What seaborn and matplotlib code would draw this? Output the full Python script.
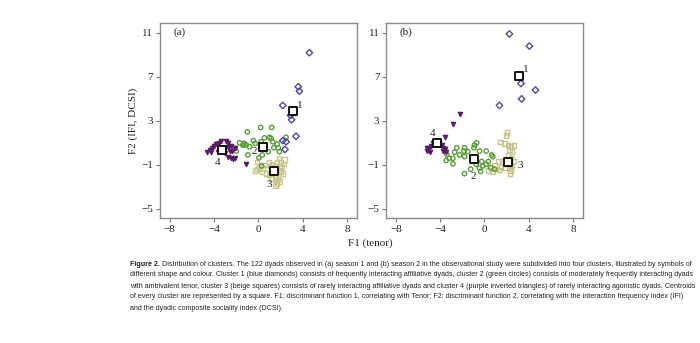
import numpy as np
import pandas as pd
import matplotlib
matplotlib.use("Agg")
import matplotlib.pyplot as plt
import seaborn as sns
from matplotlib import font_manager

# ---------------- data ----------------
clusters = ["1", "2", "3", "4"]

# Season 1 (panel a)
a1_x = [4.6, 3.6, 3.7, 2.2, 2.9, 3.0, 3.4, 2.2, 2.4, 2.5]
a1_y = [9.2, 6.1, 5.7, 4.4, 3.5, 3.1, 1.6, 1.2, 0.4, 1.1]
a2_x = [0.2, 1.2, -1.0, -1.7, -1.3, -1.1, -0.45, -0.3, 0.25, 0.55, 1.0, 1.15, 1.3, 1.7,
        1.4, 1.9, 2.5, -0.95, -2.0, -2.1, 0.05, 0.35, 0.3, 0.9, 1.8, -0.8, -1.3, -1.4]
a2_y = [2.4, 2.4, 2.0, 1.0, 0.85, 0.8, 1.2, 0.95, 1.1, 1.45, 1.5, 1.4, 1.1, 0.9,
        0.55, 0.2, 1.5, -0.1, 0.25, 0.5, -0.35, -0.1, -1.1, 0.2, 0.55, 0.65, 0.95, 0.8]
a3_x = [-0.1, 0.05, -0.1, 0.1, 0.95, 1.25, 1.7, 2.0, 2.35, 2.25, 1.85, 1.9, 1.7, 1.8,
        1.75, 1.7, 1.55, 0.95, 1.15, 0.8, 0.55, 0.35, -0.25, 2.0, 2.2, 1.6, 1.9, 1.65,
        1.8, 0.7, 1.1, 2.1]
a3_y = [-0.75, -1.1, -1.4, -1.4, -0.75, -0.9, -0.75, -0.75, -0.5, -0.9, -0.4, -1.25,
        -1.65, -1.95, -2.3, -2.7, -2.9, -1.9, -2.25, -1.35, -1.0, -1.65, -1.5, -1.65,
        -1.8, -2.1, -2.5, -2.45, -1.5, -1.8, -1.1, -1.2]
a4_x = [-4.6, -4.4, -4.2, -4.0, -3.8, -3.55, -3.35, -2.95, -2.75, -2.7, -2.5, -2.6,
        -2.75, -2.5, -2.3, -2.15, -3.0, -3.65, -4.25, -1.1, -2.35, -2.15]
a4_y = [0.2, 0.35, 0.55, 0.7, 0.85, 1.0, 1.15, 1.2, 0.95, 0.65, 0.75, 0.25,
        -0.25, -0.4, -0.5, -0.35, 0.05, 0.2, 0.2, -0.95, 0.25, 0.5]
a_cx = [3.1, 0.45, 1.4, -3.3]
a_cy = [3.9, 0.6, -1.6, 0.35]
a_lx = [3.75, -0.35, 1.0, -3.7]
a_ly = [4.4, 0.2, -2.8, -0.75]

# Season 2 (panel b)
b1_x = [2.25, 4.05, 3.3, 3.35, 4.6, 1.35]
b1_y = [10.9, 9.8, 6.4, 5.0, 5.8, 4.4]
b2_x = [-2.5, -1.8, -1.85, -2.7, -3.4, -3.45, -2.85, -2.85, -2.25, -1.8, -1.5, -1.8,
        -0.9, -0.7, -0.95, -0.45, 0.15, 0.65, 0.75, -0.25, -0.45, 0.15, 0.55, 0.9,
        -0.75, -0.35, -1.25, 0.35, -0.15, -3.2]
b2_y = [0.55, 0.55, 0.25, 0.15, -0.05, -0.6, -0.4, -0.9, -0.1, -0.25, 0.2, -1.8,
        0.8, 1.0, 0.55, 0.25, 0.25, -0.1, -0.25, -0.7, -1.3, -0.95, -1.25, -1.4,
        -0.95, -1.6, -1.4, -0.7, -1.1, -0.4]
b3_x = [2.05, 1.95, 1.45, 1.8, 2.15, 2.4, 2.65, 2.25, 2.5, 2.15, 2.4, 2.65, 2.25, 2.4,
        2.3, 1.2, 0.9, 0.6, 1.05, 1.5, 1.8, 0.3, 0.75, 1.65, 2.1, 2.5, 2.35, 1.3]
b3_y = [1.95, 1.65, 1.05, 0.95, 0.8, 0.65, 0.75, 0.35, 0.2, -0.1, -0.4, -0.65, -1.0,
        -1.4, -1.8, -0.7, -1.0, -1.25, -1.4, -1.15, -1.3, -1.5, -1.6, -0.7, -0.85,
        -1.1, -1.55, -1.45]
b4_x = [-2.2, -2.85, -3.55, -5.15, -5.0, -4.85, -4.65, -4.45, -4.1, -3.85, -3.7, -3.55,
        -3.5, -5.2, -4.95, -3.7]
b4_y = [3.6, 2.7, 1.55, 0.25, 0.5, 0.75, 0.95, 1.0, 1.0, 0.8, 0.55, 0.4, 0.15, 0.5,
        0.2, 0.25]
b_cx = [3.1, -0.9, 2.1, -4.3]
b_cy = [7.1, -0.5, -0.7, 0.95]
b_lx = [3.75, -1.05, 3.25, -4.7]
b_ly = [7.65, -2.1, -1.1, 1.85]

x_ticks = [-8, -4, 0, 4, 8]
y_ticks = [-5, -1, 3, 7, 11]
x_label = "F1 (tenor)"
y_label = "F2 (IFI, DCSI)"
panel_labels = ["(a)", "(b)"]

caption_bold = "Figure 2."
caption_lines = [
    " Distribution of clusters. The 122 dyads observed in (a) season 1 and (b) season 2 in the observational study were subdivided into four clusters, illustrated by symbols of",
    "different shape and colour. Cluster 1 (blue diamonds) consists of frequently interacting affiliative dyads, cluster 2 (green circles) consists of moderately frequently interacting dyads",
    "with ambivalent tenor, cluster 3 (beige squares) consists of rarely interacting affiliative dyads and cluster 4 (purple inverted triangles) of rarely interacting agonistic dyads. Centroids",
    "of every cluster are represented by a square. F1: discriminant function 1, correlating with Tenor; F2: discriminant function 2, correlating with the interaction frequency index (IFI)",
    "and the dyadic composite sociality index (DCSI).",
]

# ---------------- style ----------------
colors = {"1": "#4b4b9e", "2": "#5a9c3c", "3": "#c8c48c", "4": "#5c1a6a"}
markers = {"1": "D", "2": "o", "3": "s", "4": "v"}
sizes = {"1": 11, "2": 10, "3": 10, "4": 9}
filled = {"1": False, "2": False, "3": False, "4": True}

sns.set_theme(style="white")
serif = ["Liberation Serif", "DejaVu Serif"]
plt.rcParams["font.family"] = serif

names = {f.name for f in font_manager.fontManager.ttflist}
cap_family = "Liberation Sans Narrow" if "Liberation Sans Narrow" in names else "Liberation Sans"

fig = plt.figure(figsize=(7.0, 3.43), dpi=100)
axA = fig.add_axes([0.229, 0.364, 0.281, 0.569])
axB = fig.add_axes([0.552, 0.364, 0.281, 0.569])

def build(xs, ys):
    rows = []
    for c, (x, y) in zip(clusters, zip(xs, ys)):
        for xi, yi in zip(x, y):
            rows.append((xi, yi, c))
    return pd.DataFrame(rows, columns=["F1", "F2", "cluster"])

dfA = build([a1_x, a2_x, a3_x, a4_x], [a1_y, a2_y, a3_y, a4_y])
dfB = build([b1_x, b2_x, b3_x, b4_x], [b1_y, b2_y, b3_y, b4_y])

def draw(ax, df, cx, cy, lx, ly, plabel):
    for c in ["3", "2", "4", "1"]:
        sub = df[df.cluster == c]
        col = colors[c]
        sns.scatterplot(data=sub, x="F1", y="F2", ax=ax, marker=markers[c], s=sizes[c],
                        color=col, edgecolor=col,
                        facecolor=(col if filled[c] else "none"),
                        linewidth=1.0, legend=False, zorder=3)
    cent = pd.DataFrame({"F1": cx, "F2": cy})
    sns.scatterplot(data=cent, x="F1", y="F2", ax=ax, marker="s", s=38,
                    color="white", edgecolor="black", linewidth=1.3, zorder=5, legend=False)
    for c, x, y in zip(clusters, lx, ly):
        ax.text(x, y, c, fontsize=8, ha="center", va="center", color="#222222", zorder=6)
    ax.set_xlim(-8.85, 8.9)
    ax.set_ylim(-5.85, 11.9)
    ax.set_xticks(x_ticks)
    ax.set_yticks(y_ticks)
    ax.set_xticklabels([f"{t}".replace("-", "\u2212") for t in x_ticks])
    ax.set_yticklabels([f"{t}".replace("-", "\u2212") for t in y_ticks])
    ax.tick_params(axis="both", direction="out", length=3, width=0.8, color="#777777",
                   labelsize=8, labelcolor="#222222", pad=2, left=True, bottom=True)
    for s in ax.spines.values():
        s.set_color("#8a8a8a")
        s.set_linewidth(1.0)
    ax.set_xlabel("")
    ax.set_ylabel("")
    ax.text(0.065, 0.955, plabel, transform=ax.transAxes, fontsize=8, ha="left", va="center",
            color="#222222")

draw(axA, dfA, a_cx, a_cy, a_lx, a_ly, panel_labels[0])
draw(axB, dfB, b_cx, b_cy, b_lx, b_ly, panel_labels[1])

fig.text(0.529, 0.29, x_label, fontsize=8, ha="center", va="center", color="#222222")
fig.text(0.19, 0.648, y_label, fontsize=8, ha="center", va="center", rotation=90, color="#222222")

# caption
renderer = fig.canvas.get_renderer()
left_px = 130
target_right = 693
fs = 5.6
for _ in range(3):
    tb = fig.text(left_px / 700, 1 - 264 / 343, caption_bold, fontsize=fs, fontweight="bold",
                  family=cap_family, ha="left", va="center", color="#222222")
    bb = tb.get_window_extent(renderer)
    tr = fig.text(bb.x1 / 700, 1 - 264 / 343, caption_lines[0], fontsize=fs,
                  family=cap_family, ha="left", va="center", color="#222222")
    w = tr.get_window_extent(renderer).x1
    if abs(w - target_right) < 3:
        break
    fs = fs * (target_right - left_px) / (w - left_px)
    tb.remove()
    tr.remove()

for i, line in enumerate(caption_lines[1:], start=1):
    fig.text(left_px / 700, 1 - (264 + 11 * i) / 343, line, fontsize=fs, family=cap_family,
             ha="left", va="center", color="#222222")

fig.savefig("out.png", dpi=100)
